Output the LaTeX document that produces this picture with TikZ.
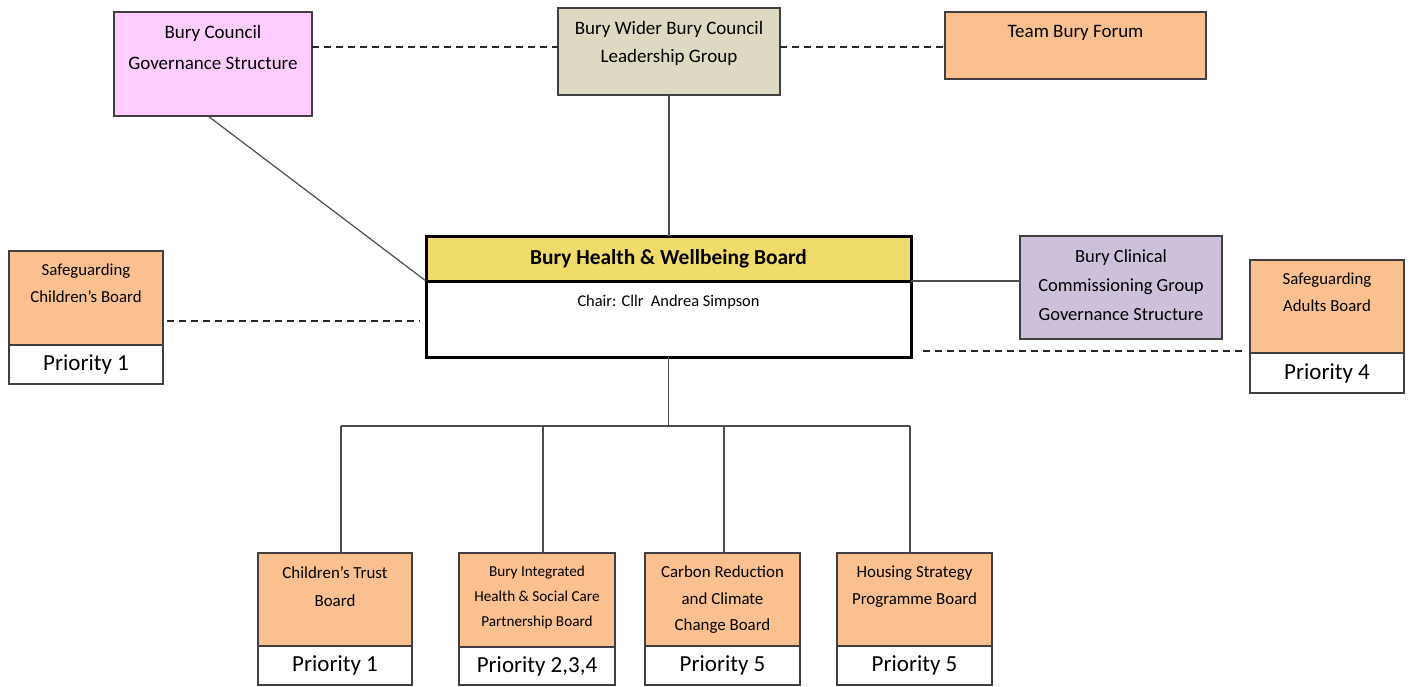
\documentclass[tikz,border=0pt]{standalone}
\usepackage{fontspec}
\setmainfont{Carlito}
\usetikzlibrary{positioning}
\definecolor{bcpink}{HTML}{FFCCFF}
\definecolor{widergrey}{HTML}{DDD9C3}
\definecolor{boardorange}{HTML}{FAC090}
\definecolor{hwbyellow}{HTML}{F0DC6A}
\definecolor{ccglilac}{HTML}{CCC0DA}
\newcommand{\fsz}[2]{\fontsize{#1}{#2}\selectfont}

\begin{document}
\begin{tikzpicture}[x=1pt,y=-1pt,
	box/.style={draw=black!75,line width=1.2pt,inner sep=0pt,outer sep=0pt,anchor=north west},
	prio/.style={box,fill=white,font=\fsz{23}{26}},
	toptext/.style={anchor=north,align=center,inner sep=0pt,yshift=-13pt},
	top text/.style 2 args={label={[toptext,font=#1]north:{#2}}},
	link/.style={draw=black!70,line width=1.2pt},
	dashlink/.style={draw=black!85,line width=2.5pt,dash pattern=on 7pt off 5pt}]
	\useasboundingbox (0,0) rectangle (1409,686);
	% top row
	\node[box,fill=bcpink,minimum width=198pt,minimum height=104pt,
		top text={\fsz{19}{31}}{Bury Council\\Governance Structure}] (bc) at (114,12) {};
	\node[box,fill=widergrey,minimum width=222pt,minimum height=87pt,
		top text={\fsz{19}{28}}{Bury Wider Bury Council\\Leadership Group}] (wider) at (558,8) {};
	\node[box,fill=boardorange,minimum width=261pt,minimum height=67pt,
		top text={\fsz{19}{28}}{Team Bury Forum}] (team) at (945,12) {};
	% board
	\node[box,line width=3pt,draw=black,fill=white,minimum width=485pt,minimum height=121pt] (hwb) at (426,236) {};
	\node[box,line width=3pt,draw=black,fill=hwbyellow,minimum width=485pt,minimum height=45pt] (hwbhead) at (426,236) {};
	\node[font=\fsz{21.4}{24}\bfseries] (hwbtitle) at (hwbhead.center) {Bury Health \& Wellbeing Board};
	\node[below=14pt of hwbhead,inner sep=0pt,font=\fsz{16.4}{20}] (chair) {Chair: Cllr\ \ Andrea Simpson};
	\node[box,fill=ccglilac,minimum width=202pt,minimum height=103pt,
		top text={\fsz{18.5}{29}}{Bury Clinical\\Commissioning Group\\Governance Structure}] (ccg) at (1020,236) {};
	% safeguarding
	\node[box,fill=boardorange,minimum width=154pt,minimum height=94pt,
		top text={\fsz{16.8}{27}}{Safeguarding\\Children's Board}] (scb) at (9,251) {};
	\node[prio,minimum width=154pt,minimum height=39pt] (scbp) at (scb.south west) {Priority 1};
	\node[box,fill=boardorange,minimum width=154pt,minimum height=93pt,
		top text={\fsz{16.8}{27}}{Safeguarding\\Adults Board}] (sab) at (1250,260) {};
	\node[prio,minimum width=154pt,minimum height=40pt] (sabp) at (sab.south west) {Priority 4};
	% priority boards
	\node[box,fill=boardorange,minimum width=154pt,minimum height=93pt,
		top text={\fsz{16.9}{28}}{Children's Trust\\Board}] (ctb) at (258,553) {};
	\node[prio,minimum width=154pt,minimum height=39pt] (ctbp) at (ctb.south west) {Priority 1};
	\node[box,fill=boardorange,minimum width=156pt,minimum height=94pt,
		top text={\fsz{15.2}{25}}{Bury Integrated\\Health \& Social Care\\Partnership Board}] (bih) at (459,553) {};
	\node[prio,minimum width=156pt,minimum height=38pt] (bihp) at (bih.south west) {Priority 2,3,4};
	\node[box,fill=boardorange,minimum width=155pt,minimum height=93pt,
		top text={\fsz{16.9}{26.5}}{Carbon Reduction\\and Climate\\Change Board}] (crc) at (645,553) {};
	\node[prio,minimum width=155pt,minimum height=39pt] (crcp) at (crc.south west) {Priority 5};
	\node[box,fill=boardorange,minimum width=155pt,minimum height=93pt,
		top text={\fsz{16.9}{27}}{Housing Strategy\\Programme Board}] (hsp) at (837,553) {};
	\node[prio,minimum width=155pt,minimum height=39pt] (hspp) at (hsp.south west) {Priority 5};
	\coordinate (bus) at (hwb.south |- 0,426);
	\coordinate (d1) at (341,426);
	\coordinate (d2) at (543,426);
	\coordinate (d3) at (724,426);
	\coordinate (d4) at (910,426);
	\path[dashlink]
	([yshift=17pt]bc.east) edge ([yshift=4.5pt]wider.west)
	([yshift=4.5pt]wider.east) edge ([yshift=-1.5pt]team.west)
	([shift={(4pt,-23pt)}]scb.east) edge ([shift={(-6pt,-24.5pt)}]hwb.west)
	([shift={(12pt,6pt)}]hwb.south east) edge ([shift={(-4pt,2pt)}]sab.south west);
	\path[link]
	([xshift=-5pt]bc.south) edge (hwbhead.south west)
	(wider.south) edge (wider.south |- hwbhead.north)
	(hwbhead.south east) edge (hwbhead.south east -| ccg.west)
	(hwb.south) edge (bus)
	(d1) edge (d4);
	\foreach \d/\b in {d1/ctb,d2/bih,d3/crc,d4/hsp}
		\draw[link] (\d) -- (\d |- \b.north);
\end{tikzpicture}
\end{document}
